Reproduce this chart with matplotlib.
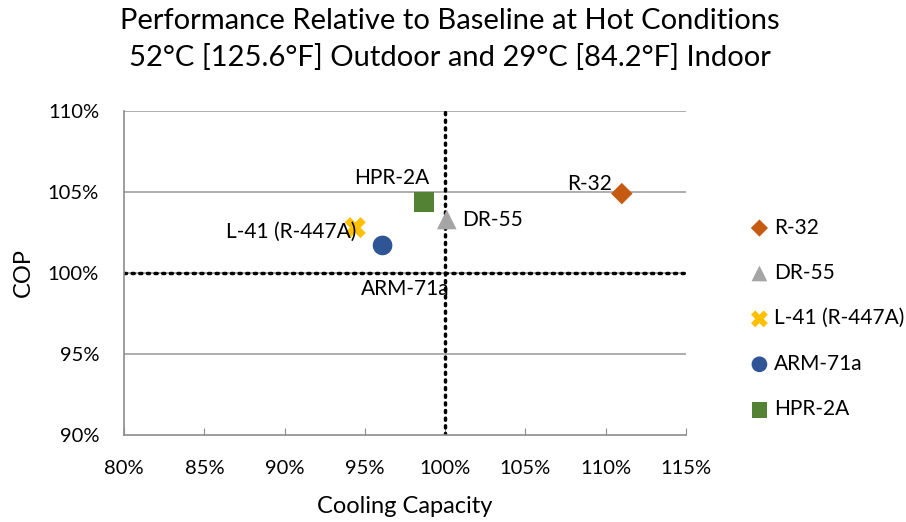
import matplotlib
matplotlib.use("Agg")
import matplotlib.pyplot as plt
from matplotlib.ticker import FuncFormatter

plt.rcParams['font.family'] = ['Lato', 'DejaVu Sans']

names = ["R-32", "DR-55", "L-41 (R-447A)", "ARM-71a", "HPR-2A"]
capacity = [111.0, 100.1, 94.4, 96.1, 98.7]
cop = [104.9, 103.3, 102.8, 101.7, 104.4]
colors = ["#C55A11", "#A5A5A5", "#FFC000", "#2F5597", "#548235"]
markers = ["D", "^", "X", "o", "s"]
sizes = [120, 200, 230, 200, 200]
xticks = [80, 85, 90, 95, 100, 105, 110, 115]
yticks = [90, 95, 100, 105, 110]

fig = plt.figure(figsize=(9.06, 5.22), dpi=100)
ax = fig.add_axes([0.1369, 0.1667, 0.6203, 0.6207])

ax.set_xlim(80, 115)
ax.set_ylim(90, 110)
ax.set_xticks(xticks)
ax.set_yticks(yticks)
pct = FuncFormatter(lambda v, p: f"{v:.0f}%")
ax.xaxis.set_major_formatter(pct)
ax.yaxis.set_major_formatter(pct)

for y in yticks[1:]:
    ax.axhline(y, color="#A0A0A0", lw=1.2, zorder=1)
for s in ["top", "right"]:
    ax.spines[s].set_visible(False)
for s in ["left", "bottom"]:
    ax.spines[s].set_color("#8C8C8C")
    ax.spines[s].set_linewidth(1.2)

ax.axvline(100, color="black", lw=2.5, ls=(0, (0.6, 1.6)), dash_capstyle="round", zorder=2)
ax.axhline(100, color="black", lw=2.5, ls=(0, (0.6, 1.6)), dash_capstyle="round", zorder=2)

ax.tick_params(axis="x", direction="in", length=5, color="#8C8C8C", labelsize=14.5, pad=18)
ax.tick_params(axis="y", length=0, labelsize=14.5, pad=18)

for i, n in enumerate(names):
    ax.scatter(capacity[i], cop[i], s=sizes[i], marker=markers[i], color=colors[i],
               edgecolors="none", zorder=4, label=n)

offsets = {
    "R-32": (-0.6, 0.6, "right", "center"),
    "DR-55": (0.95, 0.0, "left", "center"),
    "L-41 (R-447A)": (0.1, -0.25, "right", "center"),
    "ARM-71a": (1.4, -2.7, "center", "center"),
    "HPR-2A": (-2.0, 1.45, "center", "center"),
}
for i, n in enumerate(names):
    dx, dy, ha, va = offsets[n]
    ax.text(capacity[i] + dx, cop[i] + dy, n, fontsize=15, ha=ha, va=va, zorder=5)

ax.set_xlabel("Cooling Capacity", fontsize=17, labelpad=14)
ax.set_ylabel("COP", fontsize=17, labelpad=10)

fig.suptitle("Performance Relative to Baseline at Hot Conditions\n52°C [125.6°F] Outdoor and 29°C [84.2°F] Indoor",
             fontsize=21, x=0.497, y=0.985, linespacing=1.45)

leg = ax.legend(loc="center left", bbox_to_anchor=(1.075, 0.36), frameon=False,
                fontsize=15, handletextpad=0.1, labelspacing=1.22, handlelength=1.2,
                markerscale=0.8)

fig.savefig("out.png", dpi=100)
